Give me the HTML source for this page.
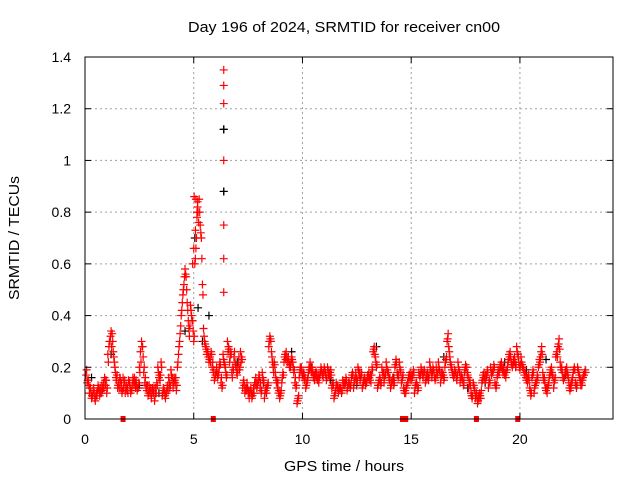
<!DOCTYPE html>
<html><head><meta charset="utf-8"><style>
body{margin:0;background:#fff}
svg{display:block;font-family:"Liberation Sans",sans-serif}
</style></head><body>
<svg id="c" width="640" height="480">
<rect x="0" y="0" width="640" height="480" fill="#fff"/>
<text x="344" y="32" font-size="15" text-anchor="middle" textLength="312" lengthAdjust="spacingAndGlyphs">Day 196 of 2024, SRMTID for receiver cn00</text>
<text x="344" y="471" font-size="15" text-anchor="middle" textLength="120" lengthAdjust="spacingAndGlyphs">GPS time / hours</text>
<text transform="translate(19,238) rotate(-90)" font-size="15" text-anchor="middle" textLength="124" lengthAdjust="spacingAndGlyphs">SRMTID / TECUs</text>
<g id="grid"></g><g id="pts"></g>
<rect x="85" y="57" width="528" height="362" fill="none" stroke="#000" stroke-width="1"/>
<g id="ticks"></g>
</svg>
<script>
const xTicks=[0,5,10,15,20];
const yTicks=[0,0.2,0.4,0.6,0.8,1,1.2,1.4];
const yTickLabels=["0","0.2","0.4","0.6","0.8","1","1.2","1.4"];
const redStart=0.05, redStep=0.1;
const redValues=[0.17,0.15,0.12,0.09,0.08,0.09,0.11,0.10,0.14,0.13,
0.25,0.30,0.33,0.22,0.15,0.14,0.12,0.16,0.10,0.12,
0.14,0.11,0.13,0.15,0.12,0.26,0.28,0.14,0.11,0.13,
0.08,0.10,0.12,0.20,0.15,0.09,0.11,0.10,0.16,0.19,
0.12,0.14,0.20,0.30,0.42,0.52,0.55,0.38,0.44,0.38,
0.60,0.78,0.85,0.70,0.35,0.28,0.26,0.24,0.20,0.15,
0.20,0.18,0.14,0.25,0.20,0.30,0.22,0.18,0.24,0.20,
0.22,0.26,0.12,0.10,0.14,0.08,0.10,0.12,0.16,0.14,
0.12,0.18,0.08,0.10,0.28,0.30,0.20,0.18,0.12,0.08,
0.14,0.22,0.26,0.24,0.20,0.22,0.14,0.06,0.16,0.20,
0.18,0.12,0.16,0.22,0.20,0.15,0.18,0.14,0.20,0.16,
0.18,0.20,0.16,0.12,0.08,0.14,0.10,0.12,0.15,0.13,
0.11,0.14,0.16,0.12,0.18,0.20,0.15,0.12,0.16,0.14,
0.18,0.14,0.26,0.24,0.12,0.16,0.20,0.14,0.22,0.18,
0.12,0.16,0.20,0.18,0.22,0.14,0.12,0.10,0.14,0.18,
0.16,0.10,0.14,0.18,0.20,0.16,0.14,0.18,0.22,0.16,
0.18,0.20,0.22,0.14,0.18,0.20,0.30,0.26,0.20,0.16,
0.18,0.22,0.14,0.16,0.18,0.20,0.12,0.10,0.14,0.08,
0.06,0.10,0.14,0.18,0.16,0.12,0.20,0.18,0.14,0.16,
0.18,0.22,0.20,0.16,0.22,0.26,0.20,0.24,0.28,0.22,
0.24,0.20,0.18,0.14,0.12,0.16,0.10,0.14,0.20,0.24,
0.18,0.14,0.10,0.16,0.20,0.12,0.24,0.28,0.22,0.18,
0.16,0.20,0.14,0.12,0.18,0.14,0.20,0.16,0.13,0.17];
const redB=[0.14,0.10,0.08,0.12,0.09,0.13,0.12,0.11,0.16,0.10,
0.28,0.34,0.26,0.18,0.12,0.16,0.10,0.14,0.13,0.15,
0.10,0.16,0.14,0.11,0.20,0.30,0.18,0.12,0.09,0.10,
0.12,0.07,0.14,0.16,0.22,0.12,0.08,0.13,0.12,0.15,
0.16,0.11,0.25,0.36,0.48,0.58,0.45,0.32,0.40,0.30,
0.66,0.80,0.75,0.52,0.30,0.25,0.22,0.26,0.18,0.17,
0.16,0.22,0.12,0.22,0.16,0.28,0.26,0.20,0.22,0.17,
0.19,0.24,0.15,0.12,0.10,0.11,0.09,0.14,0.12,0.17,
0.10,0.15,0.11,0.13,0.32,0.24,0.22,0.14,0.10,0.10,
0.18,0.25,0.22,0.20,0.24,0.18,0.12,0.08,0.20,0.17,
0.15,0.14,0.20,0.19,0.16,0.18,0.15,0.17,0.18,0.20,
0.15,0.17,0.19,0.14,0.10,0.12,0.12,0.10,0.13,0.16,
0.13,0.12,0.18,0.15,0.14,0.17,0.18,0.14,0.13,0.17,
0.15,0.20,0.28,0.20,0.14,0.13,0.17,0.18,0.19,0.15,
0.14,0.13,0.23,0.16,0.19,0.16,0.10,0.13,0.17,0.15,
0.19,0.13,0.11,0.16,0.18,0.19,0.17,0.15,0.19,0.20,
0.15,0.17,0.19,0.18,0.15,0.23,0.33,0.22,0.18,0.19,
0.15,0.19,0.17,0.13,0.21,0.17,0.15,0.08,0.12,0.10,
0.09,0.08,0.17,0.15,0.19,0.15,0.17,0.21,0.12,0.19,
0.21,0.19,0.17,0.19,0.25,0.22,0.23,0.20,0.25,0.19,
0.21,0.17,0.15,0.17,0.09,0.19,0.13,0.17,0.23,0.28,
0.15,0.11,0.13,0.19,0.17,0.15,0.26,0.31,0.19,0.15,
0.19,0.17,0.11,0.15,0.20,0.12,0.18,0.13,0.16,0.19];
const redC=[0.19,0.13,0.10,0.11,0.07,0.11,0.09,0.13,0.12,0.15,
0.22,0.32,0.30,0.20,0.17,0.12,0.14,0.12,0.12,0.10,
0.12,0.13,0.16,0.13,0.14,0.22,0.24,0.16,0.13,0.11,
0.10,0.12,0.10,0.18,0.17,0.10,0.09,0.12,0.14,0.17,
0.14,0.16,0.22,0.33,0.45,0.55,0.50,0.35,0.42,0.34,
0.62,0.82,0.80,0.62,0.32,0.27,0.24,0.22,0.22,0.16,
0.18,0.20,0.16,0.23,0.18,0.26,0.24,0.16,0.26,0.18,
0.24,0.22,0.14,0.11,0.12,0.10,0.08,0.10,0.14,0.15,
0.14,0.16,0.10,0.12,0.30,0.26,0.18,0.16,0.14,0.09,
0.16,0.24,0.24,0.22,0.22,0.20,0.16,0.07,0.18,0.18,
0.17,0.13,0.18,0.20,0.18,0.17,0.16,0.16,0.19,0.18,
0.17,0.19,0.18,0.13,0.09,0.13,0.11,0.11,0.14,0.14,
0.12,0.13,0.17,0.14,0.16,0.19,0.16,0.13,0.15,0.16,
0.16,0.17,0.27,0.22,0.13,0.15,0.18,0.16,0.20,0.16,
0.13,0.15,0.21,0.17,0.20,0.15,0.11,0.12,0.16,0.16,
0.17,0.12,0.13,0.17,0.19,0.18,0.15,0.16,0.20,0.18,
0.16,0.18,0.20,0.16,0.17,0.22,0.31,0.24,0.19,0.17,
0.16,0.20,0.16,0.15,0.19,0.18,0.14,0.09,0.13,0.09,
0.07,0.09,0.15,0.16,0.17,0.14,0.18,0.19,0.13,0.17,
0.20,0.20,0.18,0.18,0.23,0.24,0.21,0.22,0.26,0.20,
0.22,0.19,0.16,0.16,0.11,0.17,0.12,0.15,0.21,0.26,
0.16,0.12,0.12,0.17,0.18,0.14,0.25,0.29,0.20,0.16,
0.18,0.18,0.12,0.14,0.19,0.13,0.19,0.15,0.15,0.18];
const redD=[0.15,0.12,0.09,0.10,0.10,0.12,0.10,0.12,0.15,0.12,
0.30,0.28,0.24,0.16,0.13,0.15,0.11,0.15,0.11,0.14,
0.11,0.15,0.12,0.12,0.18,0.28,0.20,0.13,0.10,0.12,
0.11,0.09,0.13,0.17,0.20,0.11,0.10,0.11,0.13,0.16,
0.15,0.13,0.28,0.40,0.50,0.56,0.42,0.36,0.38,0.32,
0.70,0.76,0.72,0.48,0.29,0.26,0.23,0.25,0.19,0.18,
0.17,0.21,0.13,0.21,0.17,0.27,0.25,0.19,0.21,0.19,
0.20,0.23,0.13,0.11,0.11,0.12,0.10,0.13,0.13,0.16,
0.11,0.14,0.12,0.14,0.31,0.22,0.21,0.15,0.11,0.11,
0.17,0.23,0.23,0.21,0.23,0.19,0.13,0.09,0.19,0.16,
0.16,0.15,0.19,0.18,0.17,0.16,0.17,0.18,0.17,0.19,
0.16,0.18,0.17,0.13,0.11,0.13,0.12,0.11,0.14,0.15,
0.14,0.13,0.17,0.16,0.15,0.18,0.17,0.15,0.14,0.16,
0.17,0.19,0.25,0.21,0.15,0.14,0.18,0.17,0.18,0.16,
0.15,0.14,0.22,0.17,0.18,0.17,0.11,0.14,0.16,0.17,
0.18,0.14,0.12,0.17,0.17,0.18,0.16,0.17,0.18,0.19,
0.16,0.18,0.18,0.17,0.16,0.24,0.28,0.21,0.17,0.18,
0.17,0.18,0.16,0.14,0.20,0.16,0.13,0.09,0.11,0.09,
0.08,0.11,0.16,0.17,0.18,0.14,0.18,0.20,0.13,0.18,
0.20,0.18,0.18,0.20,0.24,0.21,0.22,0.21,0.24,0.21,
0.20,0.18,0.16,0.15,0.10,0.18,0.14,0.16,0.22,0.25,
0.16,0.12,0.14,0.18,0.16,0.16,0.24,0.27,0.20,0.16,
0.18,0.16,0.13,0.16,0.19,0.13,0.17,0.14,0.17,0.18];
const spikeX=[6.38,6.38,6.38,6.38,6.38,6.38,6.38,5.02,5.1,5.15,5.08,5.0,4.95,5.18];
const spikeY=[1.35,1.29,1.22,1.0,0.75,0.62,0.49,0.86,0.85,0.80,0.73,0.66,0.60,0.84];
const zeroX=[1.75,5.9,14.6,14.75,18.0,19.9];
const blackX=[0.3,1.2,2.5,3.4,4.6,5.05,5.2,5.4,5.7,6.38,6.38,7.0,8.2,9.5,10.4,11.3,12.5,13.4,14.2,15.5,16.5,17.6,18.4,19.3,20.3,21.2,22.1,22.8];
const blackY=[0.16,0.25,0.13,0.10,0.34,0.70,0.43,0.30,0.40,1.12,0.88,0.22,0.14,0.26,0.20,0.15,0.13,0.28,0.16,0.18,0.24,0.12,0.14,0.22,0.19,0.23,0.17,0.15];
const X0=85,X1=613,XMAX=24.28,Y0=419,Y1=57,YMAX=1.4;
const sx=v=>X0+v/XMAX*(X1-X0), sy=v=>Y0-v/YMAX*(Y0-Y1);
const NS="http://www.w3.org/2000/svg";
const grid=document.getElementById('grid'),ticks=document.getElementById('ticks'),pts=document.getElementById('pts');
function mk(t,a,p){const e=document.createElementNS(NS,t);for(const k in a)e.setAttribute(k,a[k]);p.appendChild(e);return e;}
xTicks.forEach(v=>{const x=sx(v);
 if(v>0){const g=mk('line',{x1:x,x2:x,y1:Y1,y2:Y0,stroke:'#a0a0a0','stroke-dasharray':'2,3'},grid);
 
 }
 const t=mk('text',{x:x,y:444,'font-size':14,'text-anchor':'middle'},ticks);t.textContent=v;
 
 
 mk('line',{x1:x,x2:x,y1:Y0,y2:Y0-6,stroke:'#000'},ticks);mk('line',{x1:x,x2:x,y1:Y1,y2:Y1+6,stroke:'#000'},ticks);});
yTicks.forEach((v,i)=>{const y=sy(v);
 if(v>0&&v<YMAX){const g=mk('line',{x1:X0,x2:X1,y1:y,y2:y,stroke:'#a0a0a0','stroke-dasharray':'2,3'},grid);
 
 }
 const t=mk('text',{x:71,y:y+5,'font-size':14,'text-anchor':'end'},ticks);t.textContent=yTickLabels[i];
 
 
 mk('line',{x1:X0,x2:X0+6,y1:y,y2:y,stroke:'#000'},ticks);mk('line',{x1:X1,x2:X1-6,y1:y,y2:y,stroke:'#000'},ticks);});
function plus(x,y,c,name){const px=sx(x),py=sy(y);
 const p=mk('path',{d:`M${px-4},${py}h8M${px},${py-4}v8`,stroke:c,'stroke-width':1.2,fill:'none'},pts);
 
 }
blackX.forEach((x,i)=>plus(x,blackY[i],'#000','black-point'));
redValues.forEach((v,i)=>plus(redStart+i*redStep,v,'#f00','red-point'));
redB.forEach((v,i)=>plus(redStart+0.05+i*redStep,v,'#f00','red-point'));
redC.forEach((v,i)=>plus(redStart+0.025+i*redStep,v,'#f00','red-point'));
redD.forEach((v,i)=>plus(redStart+0.075+i*redStep,v,'#f00','red-point'));
spikeX.forEach((x,i)=>plus(x,spikeY[i],'#f00','red-spike-point'));
blackX.slice(9,11).forEach((x,i)=>plus(x,blackY[9+i],'#000','black-point'));
zeroX.forEach(x=>{const r=mk('rect',{x:sx(x)-2.5,y:Y0-3,width:5,height:6,fill:'#f00'},pts);
 
 });
</script>
</body></html>
